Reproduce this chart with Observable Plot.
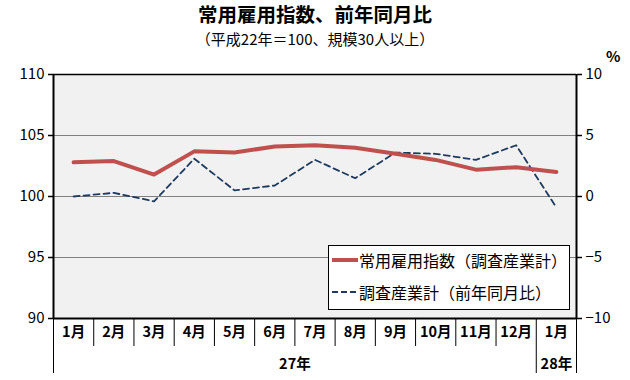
<!DOCTYPE html>
<html><head><meta charset="utf-8">
<script src="https://cdn.jsdelivr.net/npm/d3@7"></script>
<script src="https://cdn.jsdelivr.net/npm/@observablehq/plot@0.6"></script>
<style>
body{margin:0;background:#fff;font-family:"Noto Sans CJK JP",sans-serif;}
#wrap{position:relative;width:630px;height:380px;}
#title{position:absolute;left:0;width:630px;top:2px;text-align:center;font-size:19.5px;font-weight:700;color:#000;line-height:24px;}
#sub{position:absolute;left:0;width:630px;top:29px;text-align:center;font-size:15px;color:#000;line-height:20px;}
#pct{position:absolute;left:606px;top:47px;font-size:15px;font-weight:700;line-height:18px;}
#legend{position:absolute;left:328px;top:245px;width:240px;height:63px;border:1px solid #000;background:#fff;font-size:16px;}
#legend div{position:absolute;left:3px;display:flex;align-items:center;white-space:nowrap;line-height:20px;}
</style></head>
<body><div id="wrap">
<div id="chart"></div>
<div id="title">常用雇用指数、前年同月比</div>
<div id="sub">（平成22年＝100、規模30人以上）</div>
<div id="pct">%</div>
<div id="legend"></div>
</div>
<script>
const months = ["1月","2月","3月","4月","5月","6月","7月","8月","9月","10月","11月","12月","1月"];
const years = ["27年","28年"];
const yearMonthCounts = [12, 1];
const employmentIndex = [102.8,102.9,101.8,103.7,103.6,104.1,104.2,104.0,103.5,103.0,102.2,102.4,102.0];
const yoyChange = [0.0,0.3,-0.4,3.1,0.5,0.9,3.0,1.5,3.6,3.5,3.0,4.2,-0.9];
const leftTicks = [90,95,100,105,110];
const rightTicks = [-10,-5,0,5,10];
const seriesNames = ["常用雇用指数（調査産業計）","調査産業計（前年同月比）"];
const colors = ["#c0504d","#1f3a5f"];

const base = 100; // right axis 0 aligned with left axis 100
let start = 0;
const yearCenters = yearMonthCounts.map(c => { const m = start + (c - 1) / 2; start += c; return m; });
let acc = -0.5;
const yearBounds = [acc, ...yearMonthCounts.map(c => (acc += c))];
const monthBounds = d3.range(months.length + 1).map(i => i - 0.5).filter(b => !yearBounds.includes(b));

const chart = Plot.plot({
  width: 630, height: 380,
  marginLeft: 53, marginRight: 54, marginTop: 74, marginBottom: 62,
  style: {fontFamily: "Noto Sans CJK JP, sans-serif", background: "transparent"},
  x: {type: "linear", domain: [-0.5, months.length - 0.5]},
  y: {domain: [90, 110]},
  marks: [
    Plot.frame({fill: "#f1f1f1", stroke: null}),
    Plot.ruleY([95, 100, 105], {stroke: "#808080", strokeWidth: 1}),
    Plot.line(yoyChange, {x: (d, i) => i, y: d => base + d, stroke: colors[1], strokeWidth: 1.8, strokeDasharray: "6,4"}),
    Plot.line(employmentIndex, {x: (d, i) => i, y: d => d, stroke: colors[0], strokeWidth: 4}),
    Plot.ruleY([110], {stroke: "#000", strokeWidth: 1.5}),
    Plot.ruleY([90], {stroke: "#000", strokeWidth: 2}),
    Plot.ruleX([-0.5, months.length - 0.5], {stroke: "#000", strokeWidth: 2}),
    Plot.axisY(leftTicks, {anchor: "left", tickSize: 5, tickPadding: 4, fontSize: 15, label: null, stroke: "#000", strokeWidth: 1.5, color: "#000"}),
    Plot.axisY(rightTicks.map(d => d + base), {anchor: "right", tickSize: 5, tickPadding: 4, fontSize: 15, label: null, tickFormat: d => d === base ? "0" : d3.format("")(d - base).replace("-", "−"), stroke: "#000", strokeWidth: 1.5, color: "#000"}),
    Plot.axisX(monthBounds, {anchor: "bottom", tickSize: 28, tickFormat: () => "", label: null, stroke: "#000"}),
    Plot.axisX(yearBounds, {anchor: "bottom", tickSize: 55, tickFormat: () => "", label: null, stroke: "#000"}),
    Plot.axisX(d3.range(months.length), {anchor: "bottom", tickSize: 0, tickPadding: 8, tickFormat: i => months[i], fontSize: 14.5, fontWeight: "bold", label: null, color: "#000"}),
    Plot.axisX(yearCenters, {anchor: "bottom", tickSize: 0, tickPadding: 40, tickFormat: (d, i) => years[i], fontSize: 14.5, fontWeight: "bold", label: null, color: "#000"})
  ]
});
document.getElementById("chart").appendChild(chart);

const legend = document.getElementById("legend");
seriesNames.forEach((name, i) => {
  const row = document.createElement("div");
  row.style.top = (i === 0 ? 4 : 36) + "px";
  const sw = i === 0
    ? `<svg width="27" height="10"><line x1="0" x2="26" y1="5" y2="5" stroke="${colors[0]}" stroke-width="4"/></svg>`
    : `<svg width="27" height="10"><line x1="0" x2="26" y1="5" y2="5" stroke="${colors[1]}" stroke-width="1.8" stroke-dasharray="6,3"/></svg>`;
  row.innerHTML = sw + `<span>${name}</span>`;
  legend.appendChild(row);
});
</script>
</body></html>
